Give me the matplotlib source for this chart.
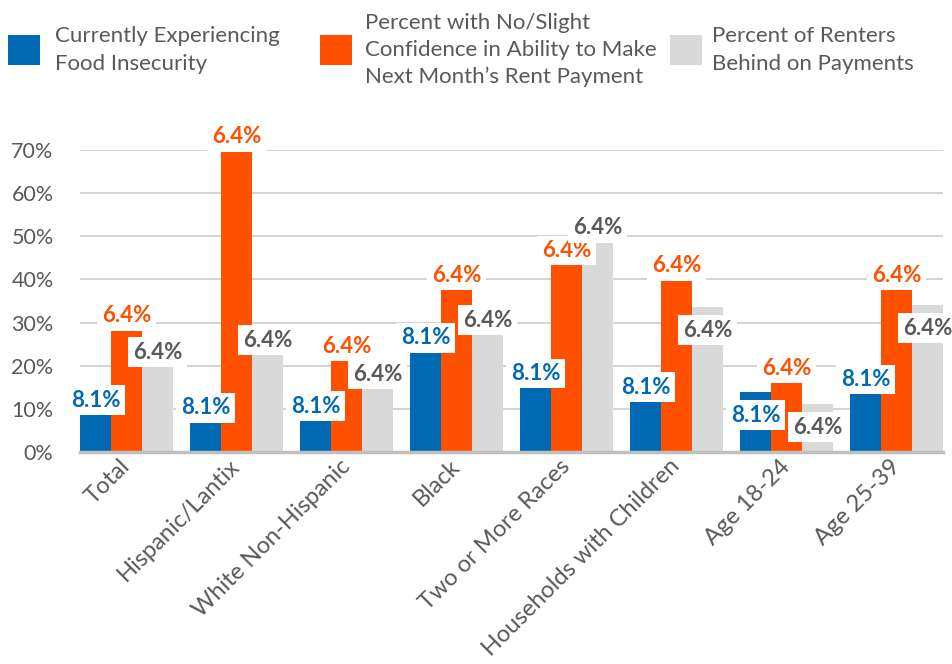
import matplotlib
matplotlib.use("Agg")
import matplotlib.pyplot as plt
from matplotlib.patches import Rectangle
import numpy as np

# ---------------- data ----------------
categories = ["Total", "Hispanic/Lantix", "White Non-Hispanic", "Black",
              "Two or More Races", "Households with Children", "Age 18-24", "Age 25-39"]
food_insecurity = [8.6, 6.9, 7.2, 23.1, 14.8, 11.6, 13.9, 13.4]
rent_confidence = [28.2, 69.7, 21.1, 37.5, 43.3, 39.8, 16.0, 37.5]
renters_behind = [19.7, 22.5, 14.6, 27.1, 48.6, 33.6, 11.1, 34.0]
food_labels = ["8.1%"] * 8
confidence_labels = ["6.4%"] * 8
behind_labels = ["6.4%"] * 8
series_names = ["Currently Experiencing\nFood Insecurity",
                "Percent with No/Slight\nConfidence in Ability to Make\nNext Month\u2019s Rent Payment",
                "Percent of Renters\nBehind on Payments"]
y_ticks = [0, 10, 20, 30, 40, 50, 60, 70]

# label placement (style): True -> label drawn inside the bar top
food_inside = [False, False, False, False, False, False, True, False]
conf_inside = [False] * 8
behind_inside = [False, False, False, False, False, True, True, True]

# ---------------- style ----------------
BLUE = "#0069B4"
ORANGE = "#FF5000"
GREY = "#D9D9D9"
TEXT = "#595959"
FONT = "Lato"
plt.rcParams["font.family"] = [FONT, "DejaVu Sans"]

W, H = 952, 664
fig = plt.figure(figsize=(W / 100, H / 100), dpi=100)

def fx(px):
    return px / W

def fy(py):
    return 1 - py / H

bw = 31 / 110.0
x = np.arange(len(categories))
ax_left, ax_right, ax_bottom, ax_top = 80, 943, 452, 150
ax = fig.add_axes([fx(ax_left), fy(ax_bottom), (ax_right - ax_left) / W, (ax_bottom - ax_top) / H])

series = [(food_insecurity, BLUE, food_labels, food_inside, BLUE),
          (rent_confidence, ORANGE, confidence_labels, conf_inside, ORANGE),
          (renters_behind, GREY, behind_labels, behind_inside, TEXT)]

LBL = 16
for k, (vals, col, labs, inside, tcol) in enumerate(series):
    xs = x + (k - 1) * bw
    ax.bar(xs, vals, width=bw, color=col, zorder=2, linewidth=0)
    for xi, v, lab, ins in zip(xs, vals, labs, inside):
        if ins:
            ax.annotate(lab, (xi, v), xytext=(0, -9), textcoords="offset points",
                        ha="center", va="top", color=tcol, fontsize=LBL, fontweight="bold",
                        bbox=dict(boxstyle="square,pad=0.2", fc="white", ec="none"),
                        zorder=6, annotation_clip=False)
        else:
            ax.annotate(lab, (xi, v), xytext=(0, 3), textcoords="offset points",
                        ha="center", va="bottom", color=tcol, fontsize=LBL, fontweight="bold",
                        bbox=dict(boxstyle="square,pad=0.2", fc="white", ec="none"),
                        zorder=6, annotation_clip=False)

ax.set_xlim(-1.5 * bw, len(categories) - 1 + 1.5 * bw)
ax.set_ylim(0, 70)
ax.set_yticks(y_ticks)
ax.set_yticklabels([f"{t}%" for t in y_ticks], fontsize=15.5, color=TEXT)
ax.set_xticks(x)
ax.set_xticklabels(categories, rotation=45, ha="right", va="center",
                   rotation_mode="anchor", fontsize=17, color=TEXT)
ax.tick_params(axis="both", length=0)
ax.tick_params(axis="y", pad=19)
ax.tick_params(axis="x", pad=8)
ax.grid(axis="y", color="#D0D0D0", linewidth=1.3, zorder=0)
ax.set_axisbelow(True)
for s in ["top", "right", "left"]:
    ax.spines[s].set_visible(False)
ax.spines["bottom"].set_color("#BFBFBF")
ax.spines["bottom"].set_linewidth(2.5)
ax.spines["bottom"].set_zorder(3)

# ---------------- legend ----------------
legend_boxes = [(8, BLUE, 55), (320, ORANGE, 365), (670, GREY, 712)]
for (bx, col, tx), name in zip(legend_boxes, series_names):
    fig.add_artist(Rectangle((fx(bx), fy(65)), 32 / W, 30 / H, transform=fig.transFigure,
                             color=col, linewidth=0))
    fig.text(fx(tx), fy(50), name, ha="left", va="center", fontsize=16, color=TEXT,
             linespacing=1.45)

fig.savefig("out.png", dpi=100)
